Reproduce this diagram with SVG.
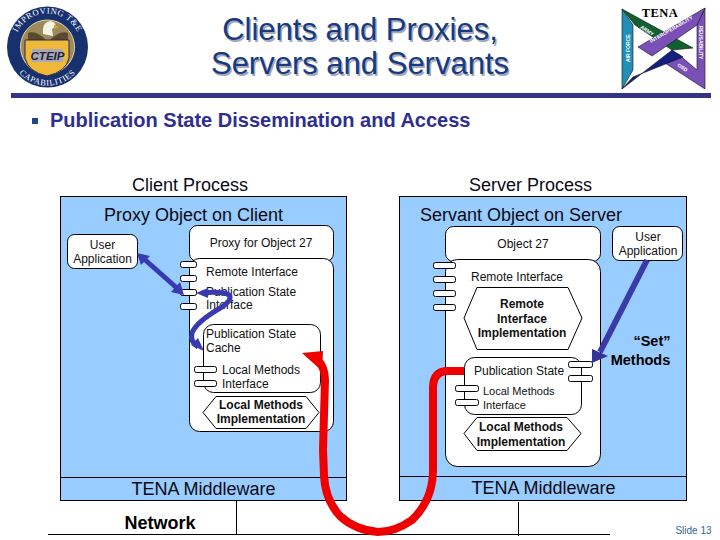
<svg xmlns="http://www.w3.org/2000/svg" width="720" height="540" viewBox="0 0 720 540">
<style>
text{font-family:"Liberation Sans",Arial,sans-serif;fill:#000}
.b{font-weight:bold}
.s{font-size:12px;fill:#111}
.h{font-size:18px;fill:#0a0a14}
.box{fill:#99ccff;stroke:#000;stroke-width:1}
.w{fill:#fff;stroke:#000;stroke-width:1}
.ln{stroke:#000;stroke-width:1;fill:none}
.blue{stroke:#3a3ab0;stroke-width:5;fill:none}
.red{stroke:#ee0000;stroke-width:8;fill:none}
.lg{font-family:"Liberation Serif",serif;font-size:8.500px;fill:#fff;letter-spacing:.6px}
.tl{font-size:5px;fill:#fff;font-weight:bold}
.ti{font-size:31px;text-anchor:middle}
</style>
<defs>
<path id="arcTop" d="M14 47A33.500 33.500 0 0 1 81 47"/>
<path id="arcBot" d="M9 47A38.500 38.500 0 0 0 86 47"/>
</defs>
<rect width="720" height="540" fill="#fff"/>
<g id="logo-cteip">
<circle cx="47.500" cy="47" r="40.500" fill="#17306e"/>
<circle cx="47.500" cy="47" r="27" fill="#9c8a5a" stroke="#e8d9a0"/>
<path d="M28 33Q36 30 46 40L50 40Q60 30 68 33L68 46H28Z" fill="#5a4a2c"/>
<path d="M25 40H69V58Q66 72 47 76Q28 72 25 58Z" fill="#f0b838" stroke="#2a2a50"/>
<rect x="32" y="49" width="31" height="13" fill="#a8a8b8"/>
<path d="M43 34Q42 22 50 21Q57 22 55 27L52 29L53 36Z" fill="#f6f2e4"/>
<path d="M54 25L59 27L54 29Z" fill="#e0a020"/>
<text x="47.500" y="60" text-anchor="middle" class="b" style="font-size:11.500px;font-style:italic;fill:#223">CTEIP</text>
<text class="lg"><textPath href="#arcTop" startOffset="50%" text-anchor="middle">IMPROVING T&amp;E</textPath></text>
<text class="lg"><textPath href="#arcBot" startOffset="50%" text-anchor="middle">CAPABILITIES</textPath></text>
</g>
<g id="logo-tena">
<polygon points="622,9 633,25 633,70 622,89" fill="#2090b8" stroke="#111" stroke-width=".6"/>
<polygon points="622,9 693,48 672,50 635,25" fill="#106030" stroke="#111" stroke-width=".6"/>
<polygon points="705,89 665,63 678,54 697,70 697,25 705,8" fill="#7a50b8" stroke="#111" stroke-width=".6"/>
<polygon points="705,8 697,25 652,56 638,47" fill="#7a50b8" stroke="#111" stroke-width=".6"/>
<polygon points="622,89 672,50 683,57 633,77" fill="#14207e" stroke="#111" stroke-width=".6"/>
<text x="660" y="17" text-anchor="middle" class="b" style="font-family:'Liberation Serif',serif;font-size:12.500px;letter-spacing:.5px">TENA</text>
<text class="tl" transform="translate(640 28) rotate(33)">ARMY</text>
<text class="tl" transform="translate(651 43) rotate(-30)">INTEROPERABILITY</text>
<text class="tl" transform="translate(638 72) rotate(-33)">NAVAL FORCES</text>
<text class="tl" transform="translate(677 66) rotate(33)">OSD</text>
<text class="tl" transform="translate(630 62) rotate(-90)">AIR FORCE</text>
<text class="tl" transform="translate(699 26) rotate(90)">REUSABILITY</text>
</g>
<g id="title">
<text x="360" y="40" class="ti" style="fill:#a4a8b8" transform="translate(1.500 1.500)">Clients and Proxies,</text>
<text x="360" y="74" class="ti" style="fill:#a4a8b8" transform="translate(1.500 1.500)">Servers and Servants</text>
<text x="360" y="40" class="ti" style="fill:#173a80">Clients and Proxies,</text>
<text x="360" y="74" class="ti" style="fill:#173a80">Servers and Servants</text>
<rect x="11" y="93" width="700" height="5" fill="#333388"/>
<rect x="32" y="118" width="6" height="6" fill="#224488"/>
<text x="50" y="127" class="b" style="font-size:20px;fill:#2e2e90">Publication State Dissemination and Access</text>
</g>
<g id="client-process">
<text x="190" y="191" text-anchor="middle" class="h">Client Process</text>
<rect class="box" x="60.500" y="196.500" width="286" height="304"/>
<line class="ln" x1="60" y1="477.500" x2="346" y2="477.500"/>
<text x="193.500" y="221" text-anchor="middle" class="h">Proxy Object on Client</text>
<text x="203.500" y="495" text-anchor="middle" class="h">TENA Middleware</text>
</g>
<g id="server-process">
<text x="530.500" y="191" text-anchor="middle" class="h">Server Process</text>
<rect class="box" x="399.500" y="196.500" width="287" height="304"/>
<line class="ln" x1="399" y1="476.500" x2="686" y2="476.500"/>
<text x="521" y="221" text-anchor="middle" class="h">Servant Object on Server</text>
<text x="543.500" y="494" text-anchor="middle" class="h">TENA Middleware</text>
</g>
<g id="network">
<text x="160" y="529" text-anchor="middle" class="b" style="font-size:18px">Network</text>
<line class="ln" x1="48" y1="534.500" x2="610" y2="534.500"/>
<line class="ln" x1="236.500" y1="501" x2="236.500" y2="534"/>
<line class="ln" x1="518.500" y1="502" x2="518.500" y2="536"/>
</g>
<g id="user-app-client">
<rect class="w" x="67.500" y="234.500" width="70" height="34" rx="7"/>
<text x="102.500" y="249" text-anchor="middle" class="s">User</text>
<text x="102.500" y="263" text-anchor="middle" class="s">Application</text>
</g>
<g id="proxy-object">
<rect class="w" x="189.500" y="225.500" width="144" height="36" rx="8"/>
<text x="261" y="247" text-anchor="middle" class="s">Proxy for Object 27</text>
<rect class="w" x="189.500" y="258.500" width="144" height="173" rx="10"/>
<rect class="w" x="203.500" y="324.500" width="117" height="68" rx="10"/>
<text x="206" y="276" class="s">Remote Interface</text>
<text x="206" y="296" class="s">Publication State</text>
<text x="206" y="309" class="s">Interface</text>
<text x="206" y="338" class="s">Publication State</text>
<text x="206" y="352" class="s">Cache</text>
<text x="222" y="374" class="s">Local Methods</text>
<text x="222" y="388" class="s">Interface</text>
<rect class="w" x="180.500" y="261.500" width="16" height="6" rx="2"/>
<rect class="w" x="180.500" y="275.500" width="16" height="6" rx="2"/>
<rect class="w" x="180.500" y="289.500" width="16" height="6" rx="2"/>
<rect class="w" x="180.500" y="303.500" width="16" height="6" rx="2"/>
<line class="ln" x1="203.500" y1="352" x2="203.500" y2="384"/>
<rect class="w" x="194.500" y="366.500" width="22" height="6" rx="2"/>
<rect class="w" x="194.500" y="380.500" width="22" height="6" rx="2"/>
<polygon class="w" points="203,412.500 216,396.500 306,396.500 319,412.500 306,428.500 216,428.500"/>
<text x="261" y="409" text-anchor="middle" class="s b">Local Methods</text>
<text x="261" y="423" text-anchor="middle" class="s b">Implementation</text>
</g>
<g id="servant-object">
<rect class="w" x="445.500" y="226.500" width="155" height="35" rx="8"/>
<text x="523" y="248" text-anchor="middle" class="s">Object 27</text>
<rect class="w" x="445.500" y="259.500" width="155" height="207" rx="12"/>
<text x="471" y="281" class="s">Remote Interface</text>
<rect class="w" x="433.500" y="262.500" width="22" height="6" rx="2"/>
<rect class="w" x="433.500" y="276.500" width="22" height="6" rx="2"/>
<rect class="w" x="433.500" y="290.500" width="22" height="6" rx="2"/>
<rect class="w" x="433.500" y="304.500" width="22" height="6" rx="2"/>
<polygon class="w" points="464,318 477,287.500 568,287.500 582,318 568,349.500 477,349.500"/>
<text x="522" y="308" text-anchor="middle" class="s b">Remote</text>
<text x="522" y="323" text-anchor="middle" class="s b">Interface</text>
<text x="522" y="337" text-anchor="middle" class="s b">Implementation</text>
<rect class="w" x="464.500" y="357.500" width="117" height="57" rx="10"/>
<text x="474" y="375" class="s">Publication State</text>
<text x="483" y="395" style="font-size:11px;fill:#111">Local Methods</text>
<text x="483" y="409" style="font-size:11px;fill:#111">Interface</text>
<line class="ln" x1="581.500" y1="364" x2="581.500" y2="378"/>
<rect class="w" x="568.500" y="361.500" width="24" height="6" rx="2"/>
<rect class="w" x="568.500" y="375.500" width="24" height="6" rx="2"/>
<rect class="w" x="455.500" y="385.500" width="23" height="6" rx="2"/>
<rect class="w" x="455.500" y="399.500" width="23" height="6" rx="2"/>
<polygon class="w" points="464,433.500 477,417.500 567,417.500 581,433.500 567,450.500 477,450.500"/>
<text x="521" y="431" text-anchor="middle" class="s b">Local Methods</text>
<text x="521" y="446" text-anchor="middle" class="s b">Implementation</text>
</g>
<g id="user-app-server">
<rect class="w" x="612.500" y="226.500" width="70" height="34" rx="7"/>
<text x="648" y="241" text-anchor="middle" class="s">User</text>
<text x="648" y="255" text-anchor="middle" class="s">Application</text>
</g>
<text x="652" y="346" text-anchor="middle" class="b" style="font-size:14.500px">“Set”</text>
<text x="640.500" y="365" text-anchor="middle" class="b" style="font-size:14.500px">Methods</text>
<g id="connectors">
<line class="blue" x1="143" y1="258" x2="178" y2="289"/>
<polygon points="137,253 150,256 141,265" fill="#3a3ab0"/>
<polygon points="184,295 171,292 180,282" fill="#3a3ab0"/>
<path class="blue" d="M202 293Q222 291 229 295Q233 299 222 307Q196 322 192 333Q190 342 198 347"/>
<polygon points="196,293 208,288 208,298" fill="#3a3ab0"/>
<polygon points="204,351 191,345 198,338" fill="#3a3ab0"/>
<line x1="647" y1="260" x2="600" y2="352" stroke="#3a3aa8" stroke-width="6"/>
<polygon points="592,363 592,349 608,356" fill="#33339a"/>
<path class="red" d="M464 371H448Q433 371 433 388V470Q433 500 412 520Q395 532 378 532Q355 530 340 516Q325 500 324 475L323 450Q324 410 325 380Q325 368 318 360"/>
<polygon points="302,353 323,351 322,371" fill="#ee0000"/>
</g>
<text x="693.500" y="534" text-anchor="middle" style="font-size:10px;fill:#336699">Slide 13</text>
</svg>
